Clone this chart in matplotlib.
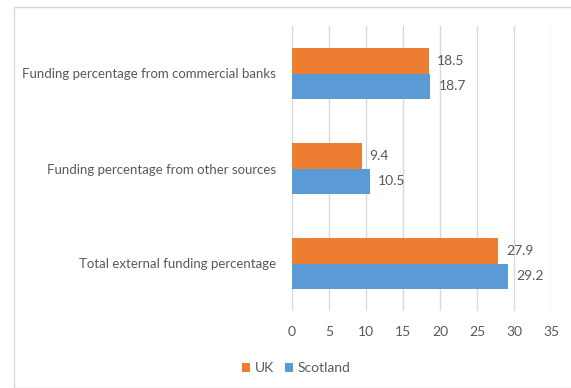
import matplotlib
matplotlib.use('Agg')
import matplotlib.pyplot as plt
from matplotlib.patches import Rectangle

categories = ['Total external funding percentage',
              'Funding percentage from other sources',
              'Funding percentage from commercial banks']
uk = [27.9, 9.4, 18.5]
scotland = [29.2, 10.5, 18.7]
series_names = ['UK', 'Scotland']
xticks = [0, 5, 10, 15, 20, 25, 30, 35]

orange = '#ED7D31'
blue = '#5B9BD5'
textcol = '#595959'
gridcol = '#D9D9D9'
fontsize = 9.5
plt.rcParams['font.family'] = ['Lato', 'DejaVu Sans']

fig = plt.figure(figsize=(5.71, 3.88), dpi=100)
# outer chart border
fig.patches.append(Rectangle((14/571., 0), 1.0, 1 - 7/388., transform=fig.transFigure,
                             fill=False, edgecolor=gridcol, linewidth=1.0))
ax = fig.add_axes([292/571., 1 - 311/388., 259/571., 285/388.])

h = 0.265
ypos = list(range(len(categories)))
ax.barh([y + h/2 for y in ypos], uk, height=h, color=orange, label=series_names[0], zorder=3)
ax.barh([y - h/2 for y in ypos], scotland, height=h, color=blue, label=series_names[1], zorder=3)

for y, v in zip(ypos, uk):
    ax.text(v + 1.1, y + h/2, '%.1f' % v, va='center', ha='left', color=textcol, fontsize=fontsize + 0.5)
for y, v in zip(ypos, scotland):
    ax.text(v + 1.1, y - h/2, '%.1f' % v, va='center', ha='left', color=textcol, fontsize=fontsize + 0.5)

ax.set_xlim(0, 35)
ax.set_ylim(-0.5, 2.5)
ax.set_xticks(xticks)
ax.set_xticklabels([str(t) for t in xticks], color=textcol, fontsize=fontsize + 0.5)
ax.set_yticks(ypos)
ax.set_yticklabels(categories, color=textcol, fontsize=fontsize)
ax.tick_params(axis='x', length=0, pad=11)
ax.tick_params(axis='y', length=0, pad=11.5)
ax.grid(axis='x', color=gridcol, linewidth=1.0, zorder=0)
for s in ax.spines.values():
    s.set_visible(False)

leg = fig.legend(loc='center', bbox_to_anchor=(296/571., 1 - 368/388.), ncol=2, frameon=False,
                 fontsize=fontsize + 0.5, handlelength=0.6, handleheight=0.6, handletextpad=0.3,
                 columnspacing=0.8, labelcolor=textcol)

plt.savefig('out.png', dpi=100)
